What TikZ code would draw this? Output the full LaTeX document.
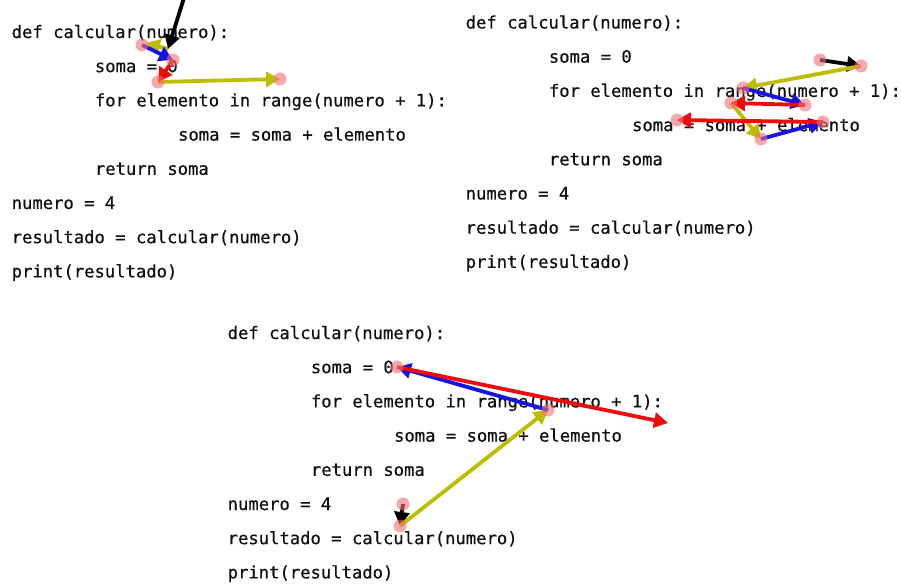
\documentclass[tikz,border=0pt]{standalone}
\usepackage{fontspec}
\newfontfamily\codefont[FakeBold=0.5]{DejaVu Sans Mono}
\usetikzlibrary{arrows.meta}
\definecolor{codeink}{RGB}{15,15,15}
\definecolor{trYellow}{RGB}{190,190,0}
\definecolor{trBlue}{RGB}{20,20,230}
\definecolor{trRed}{RGB}{240,10,10}
\definecolor{trDot}{RGB}{240,110,120}
\tikzset{
  code/.style={anchor=base west, inner sep=0pt, text=codeink,
    font=\codefont\fontsize{17.2}{20}\selectfont},
  trace/.style={line width=3.8pt, -{Triangle[length=14pt,width=15pt]}},
  hop/.style={fill=trDot, opacity=0.6},
}
\newcommand{\codeblock}[3]{%
  % #1 prefix, #2 left x, #3 baseline of first line
  \node[code] (#1l1) at (#2,#3) {def calcular(numero):};
  \node[code] (#1l2) at (#2+83.2,#3+34.2) {soma = 0};
  \node[code] (#1l3) at (#2+83.2,#3+68.4) {for elemento in range(numero + 1):};
  \node[code] (#1l4) at (#2+166.4,#3+102.6) {soma = soma + elemento};
  \node[code] (#1l5) at (#2+83.2,#3+136.8) {return soma};
  \node[code] (#1l6) at (#2,#3+171) {numero = 4};
  \node[code] (#1l7) at (#2,#3+205.2) {resultado = calcular(numero)};
  \node[code] (#1l8) at (#2,#3+239.4) {print(resultado)};
}
\begin{document}
\begin{tikzpicture}[x=1pt,y=-1pt]
\useasboundingbox (0,0) rectangle (901,585);
\fill[white] (0,0) rectangle (901,585);

% the three copies of the program
\codeblock{a}{11.5}{38}
\codeblock{b}{465.5}{28.5}
\codeblock{c}{227.5}{339}

% trace points of the first copy
\coordinate (a0) at (184,-2);
\coordinate (as) at (168,49);
\coordinate (a1) at (142,45);
\coordinate (a2) at (173,60);
\coordinate (a3) at (158,82);
\coordinate (a4) at (280,79);
\draw[trace,trYellow] (a3) -- (a4);
\draw[trace,trYellow] (as) -- (146,43);
\draw[trace,trBlue] (a1) -- (a2);
\draw[trace,trRed] (a2) -- (a3);
\draw[trace,black] (a0) -- (as);
\foreach \p in {a1,a2,a3,a4} \fill[hop] (\p) circle (6.5pt);

% trace points of the second copy
\coordinate (b1) at (820,60);
\coordinate (b2) at (861,66);
\coordinate (b3) at (743,88);
\coordinate (b4) at (805,105);
\coordinate (b5) at (731,103);
\coordinate (b6) at (761,139);
\coordinate (b7) at (823,122);
\coordinate (b8) at (677,120);
\draw[trace,black] (b1) -- (b2);
\draw[trace,trYellow] (b2) -- (b3);
\draw[trace,trYellow] (b5) -- (b6);
\draw[trace,trBlue] (b3) -- (b4);
\draw[trace,trRed] (b4) -- (b5);
\draw[trace,trBlue] (b6) -- (b7);
\draw[trace,trRed] (b7) -- (b8);
\foreach \p in {b1,b2,b3,b4,b5,b6,b7,b8} \fill[hop] (\p) circle (6.5pt);

% trace points of the third copy
\coordinate (c1) at (403,504);
\coordinate (c2) at (400,526);
\coordinate (c3) at (548,410);
\coordinate (c4) at (397,367);
\coordinate (c5) at (668,423);
\draw[trace,black] (c1) -- (c2);
\draw[trace,trYellow] (c2) -- (c3);
\draw[trace,trBlue] (c3) -- (c4);
\draw[trace,trRed] (c4) -- (c5);
\foreach \p in {c1,c2,c3,c4} \fill[hop] (\p) circle (6.5pt);
\end{tikzpicture}
\end{document}
